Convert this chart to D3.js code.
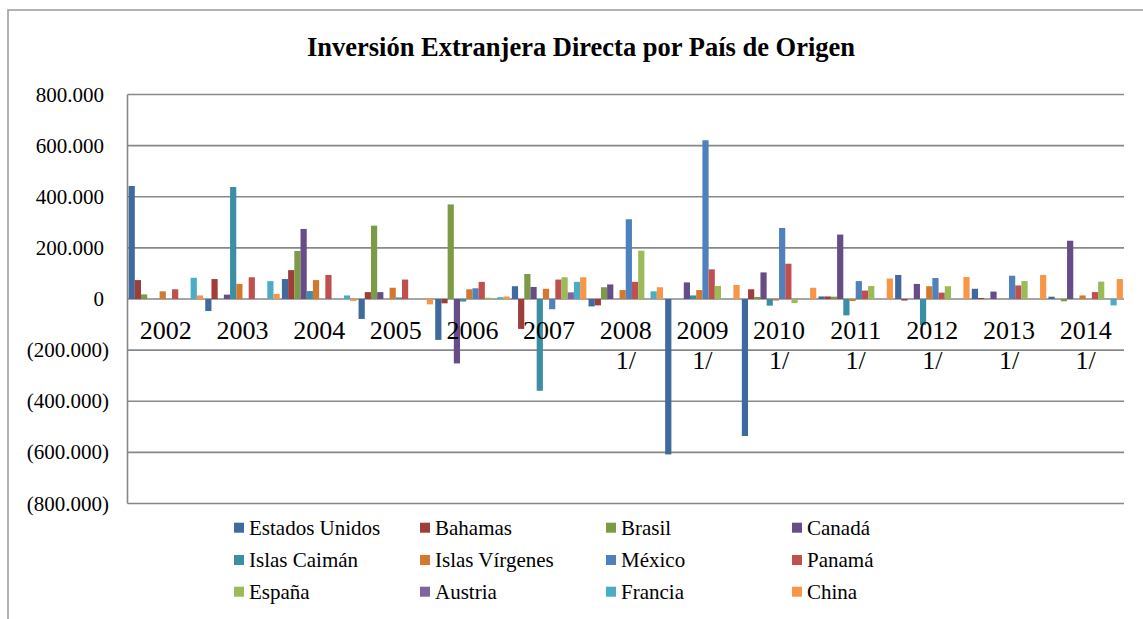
<!DOCTYPE html>
<html>
<head>
<meta charset="utf-8">
<script src="https://cdn.jsdelivr.net/npm/d3@7/dist/d3.min.js"></script>
<style>
  html, body { margin: 0; padding: 0; background: #fff; }
  svg { display: block; }
  text { font-family: "Liberation Serif", "Times New Roman", serif; fill: #000; }
</style>
</head>
<body>
<svg id="chart" width="1143" height="619"></svg>
<script>
// ---- Data ----
const years = ["2002","2003","2004","2005","2006","2007","2008","2009","2010","2011","2012","2013","2014"];
const yearNotes = ["","","","","","","1/","1/","1/","1/","1/","1/","1/"];
const seriesNames = ["Estados Unidos","Bahamas","Brasil","Canadá","Islas Caimán","Islas Vírgenes","México","Panamá","España","Austria","Francia","China"];
const seriesColors = ["#3E6A9E","#9E3D3A","#7D9A46","#664D87","#3A8FA5","#D2792F","#4F81BD","#C0504D","#9BBB59","#8064A2","#4BACC6","#F79646"];

const estadosUnidos = [442000, -47000, 78000, -78000, -160000, 50000, -29000, -608000, -536000, 10000, 94000, 40000, 9000];
const bahamas       = [74000, 78000, 113000, 27000, -17000, -117000, -25000, 0, 38000, 10000, -6000, 4000, 0];
const brasil        = [18000, 0, 188000, 287000, 370000, 98000, 46000, 0, 8000, 9000, 0, 0, -9000];
const canada        = [0, 17000, 274000, 27000, -252000, 47000, 57000, 65000, 104000, 252000, 59000, 29000, 228000];
const islasCaiman   = [1000, 438000, 31000, 0, -10000, -359000, 0, 14000, -26000, -64000, -102000, 0, 0];
const islasVirgenes = [30000, 59000, 74000, 44000, 38000, 40000, 35000, 35000, -6000, -8000, 50000, 1000, 14000];
const mexico        = [0, 0, 0, 6000, 42000, -40000, 312000, 621000, 278000, 70000, 82000, 91000, 0];
const panama        = [38000, 85000, 94000, 76000, 67000, 76000, 67000, 116000, 138000, 33000, 25000, 53000, 27000];
const espana        = [0, 0, 0, 0, 5000, 85000, 189000, 51000, -16000, 51000, 50000, 70000, 68000];
const austria       = [0, 0, 0, 0, 0, 26000, 0, 0, 0, 0, 0, 0, 0];
const francia       = [83000, 70000, 14000, 0, 7000, 67000, 30000, 0, 0, 0, 0, 0, -25000];
const china         = [14000, 20000, -8000, -21000, 10000, 85000, 46000, 55000, 44000, 80000, 86000, 94000, 78000];

const seriesValues = [estadosUnidos, bahamas, brasil, canada, islasCaiman, islasVirgenes, mexico, panama, espana, austria, francia, china];
const yTicks = [800000, 600000, 400000, 200000, 0, -200000, -400000, -600000, -800000];
const title = "Inversión Extranjera Directa por País de Origen";

// ---- Layout ----
const svg = d3.select("#chart");
const plot = { left: 127.5, right: 1124, top: 94.5, bottom: 503.5 };

const loc = d3.formatLocale({ decimal: ",", thousands: ".", grouping: [3], currency: ["", ""] });
const fmt = loc.format(",.0f");
const fmtTick = v => v < 0 ? "(" + fmt(-v) + ")" : fmt(v);

const x0 = d3.scaleBand().domain(years).range([plot.left, plot.right]).padding(0);
const x1 = d3.scaleBand().domain(seriesNames).range([1.1, x0.bandwidth() - 1.1]).padding(0);
const y = d3.scaleLinear().domain([-800000, 800000]).range([plot.bottom, plot.top]);

// chart border
svg.append("rect").attr("x", 8).attr("y", 10).attr("width", 1200).attr("height", 700)
  .attr("fill", "none").attr("stroke", "#9a9a9a").attr("stroke-width", 1.5);

// title
svg.append("text").attr("x", 581).attr("y", 56).attr("text-anchor", "middle")
  .style("font-size", "26.5px").style("font-weight", "bold").text(title);

// gridlines
svg.append("g").selectAll("line").data(yTicks).join("line")
  .attr("x1", plot.left).attr("x2", plot.right)
  .attr("y1", d => y(d)).attr("y2", d => y(d))
  .attr("stroke", "#888").attr("stroke-width", 1.6);

// left axis line
svg.append("line").attr("x1", plot.left).attr("x2", plot.left)
  .attr("y1", plot.top).attr("y2", plot.bottom)
  .attr("stroke", "#888").attr("stroke-width", 1.6);

// y tick labels
svg.append("g").selectAll("text").data(yTicks).join("text")
  .attr("x", d => d < 0 ? 109 : 104)
  .attr("y", d => y(d) + 7)
  .attr("text-anchor", "end")
  .style("font-size", "21px")
  .text(fmtTick);

// bars
const groups = svg.append("g").selectAll("g").data(years).join("g")
  .attr("transform", d => `translate(${x0(d)},0)`);
groups.selectAll("rect")
  .data((yr, i) => seriesNames.map((s, k) => ({ s, k, v: seriesValues[k][i] })))
  .join("rect")
  .attr("x", d => x1(d.s))
  .attr("width", x1.bandwidth())
  .attr("y", d => y(Math.max(0, d.v)))
  .attr("height", d => Math.abs(y(d.v) - y(0)))
  .attr("fill", d => seriesColors[d.k]);

// x labels
const xl = svg.append("g").selectAll("text").data(years).join("text")
  .attr("x", d => x0(d) + x0.bandwidth() / 2)
  .attr("y", 339)
  .attr("text-anchor", "middle")
  .style("font-size", "26px");
xl.append("tspan").attr("x", d => x0(d) + x0.bandwidth() / 2).attr("dy", 0).text(d => d);
xl.append("tspan").attr("x", d => x0(d) + x0.bandwidth() / 2).attr("dy", 30)
  .text((d, i) => yearNotes[i]);

// legend
const legCols = [234, 420, 606, 792];
const legRows = [527.7, 560, 591.7];
const leg = svg.append("g").selectAll("g").data(seriesNames).join("g")
  .attr("transform", (d, i) => `translate(${legCols[i % 4]},${legRows[Math.floor(i / 4)]})`);
leg.append("rect").attr("x", 0).attr("y", -5).attr("width", 10).attr("height", 10)
  .attr("fill", (d, i) => seriesColors[i]);
leg.append("text").attr("x", 15).attr("y", 7).style("font-size", "21px").text(d => d);
</script>
</body>
</html>
